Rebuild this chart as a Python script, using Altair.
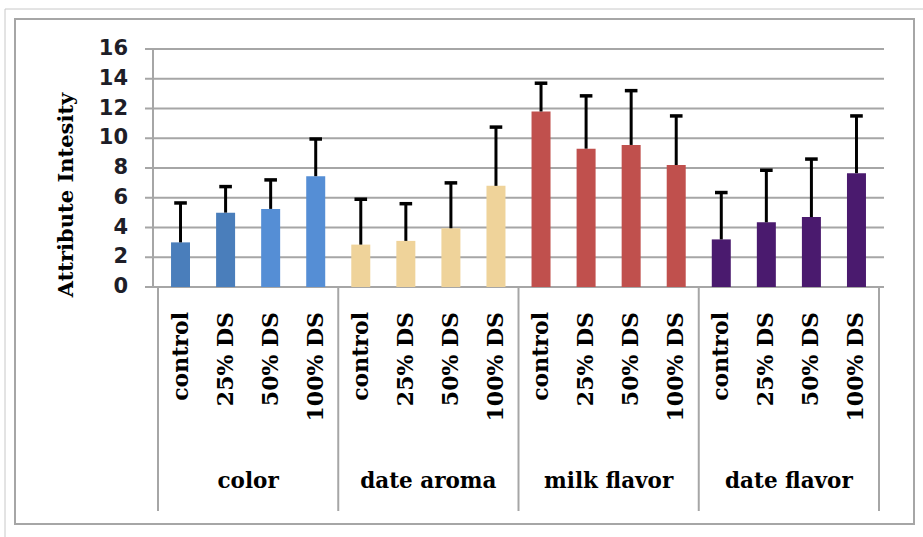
import altair as alt
import pandas as pd

groups = ["color", "date aroma", "milk flavor", "date flavor"]
treatments = ["control", "25% DS", "50% DS", "100% DS"]
means = [3.0, 5.0, 5.25, 7.45,
         2.85, 3.1, 3.95, 6.8,
         11.8, 9.3, 9.55, 8.2,
         3.2, 4.35, 4.7, 7.65]
sds = [2.65, 1.75, 1.95, 2.5,
       3.05, 2.5, 3.05, 3.95,
       1.9, 3.55, 3.65, 3.3,
       3.15, 3.5, 3.9, 3.85]
bar_colors = ["#4a7ebb", "#4a7ebb", "#558ed5", "#558ed5",
              "#efd39a", "#efd39a", "#efd39a", "#efd39a",
              "#c0504d", "#c0504d", "#c0504d", "#c0504d",
              "#4a1a6e", "#4a1a6e", "#4a1a6e", "#4a1a6e"]
y_ticks = [0, 2, 4, 6, 8, 10, 12, 14, 16]
y_tick_labels = ["0", "2", "4", "6", "8", "10", "12", "14", "16"]

rows = []
i = 0
for g in groups:
    for t in treatments:
        rows.append({"idx": i, "key": str(i), "group": g, "treat": t,
                     "mean": means[i], "upper": means[i] + sds[i],
                     "cl": i - 0.14, "cr": i + 0.14})
        i += 1
df = pd.DataFrame(rows)

grp_df = pd.DataFrame({"group": groups, "gx": [1.5, 5.5, 9.5, 13.5]})
sep_df = pd.DataFrame({"sx": [-0.5, 3.5, 7.5, 11.5, 15.5]})
tick_df = pd.DataFrame({"v": y_ticks, "lab": y_tick_labels})
one = pd.DataFrame({"a": [0]})

W, H = 731, 238
xs = alt.Scale(domain=[-0.5, 15.5], nice=False, zero=False)
ys = alt.Scale(domain=[0, 16], nice=False)

GRAY = "#a6a6a6"
SERIF = "DejaVu Serif"

base = alt.Chart(df)

grid = alt.Chart(tick_df).mark_rule(color=GRAY, strokeWidth=2).encode(
    x=alt.value(-8), x2=alt.value(W),
    y=alt.Y("v:Q", scale=ys, axis=None))

tick_labels = alt.Chart(tick_df).mark_text(
    align="right", baseline="middle", font="DejaVu Sans", fontWeight="bold",
    fontSize=21, color="#1e1e28").encode(
    x=alt.value(-25), y=alt.Y("v:Q", scale=ys, axis=None), text="lab:N")

ydomain = alt.Chart(one).mark_rule(color=GRAY, strokeWidth=2).encode(
    x=alt.value(0), y=alt.value(0), y2=alt.value(H))

bars = base.mark_bar(size=19).encode(
    x=alt.X("idx:Q", scale=xs, axis=None),
    y=alt.Y("mean:Q", scale=ys, axis=None),
    color=alt.Color("key:N", scale=alt.Scale(domain=[str(k) for k in range(16)],
                                             range=bar_colors), legend=None),
)

stems = base.mark_rule(color="black", strokeWidth=3).encode(
    x=alt.X("idx:Q", scale=xs, axis=None),
    y=alt.Y("mean:Q", scale=ys, axis=None), y2="upper:Q")

caps = base.mark_rule(color="black", strokeWidth=3.5).encode(
    x=alt.X("cl:Q", scale=xs, axis=None), x2="cr:Q",
    y=alt.Y("upper:Q", scale=ys, axis=None))

cat_labels = base.mark_text(angle=270, align="right", baseline="middle",
                            font=SERIF, fontWeight="bold", fontSize=22,
                            color="black").encode(
    x=alt.X("idx:Q", scale=xs, axis=None), y=alt.value(263), text="treat:N")

grp_labels = alt.Chart(grp_df).mark_text(align="center", baseline="middle",
                                          font=SERIF, fontWeight="bold",
                                          fontSize=21.5, color="black").encode(
    x=alt.X("gx:Q", scale=xs, axis=None), y=alt.value(433), text="group:N")

seps = alt.Chart(sep_df).mark_rule(color=GRAY, strokeWidth=2).encode(
    x=alt.X("sx:Q", scale=xs, axis=None), y=alt.value(H), y2=alt.value(462))

y_title = alt.Chart(one).mark_text(angle=270, align="center", baseline="middle",
                                   font=SERIF, fontWeight="bold", fontSize=21,
                                   color="black").encode(
    x=alt.value(67 - 153), y=alt.value(195 - 49), text=alt.value("Attribute Intesity"))

inner_box = alt.Chart(one).mark_rect(fill="white", fillOpacity=0, stroke=GRAY,
                                     strokeWidth=2).encode(
    x=alt.value(15 - 153), x2=alt.value(914 - 153),
    y=alt.value(19 - 49), y2=alt.value(524 - 49))

outer_top = alt.Chart(one).mark_rule(color="#c8c8c8", strokeWidth=1).encode(
    x=alt.value(5 - 153), x2=alt.value(923 - 153), y=alt.value(9 - 49))
outer_left = alt.Chart(one).mark_rule(color="#c8c8c8", strokeWidth=1).encode(
    x=alt.value(5 - 153), y=alt.value(9 - 49), y2=alt.value(537 - 49))

chart = alt.layer(
    inner_box, outer_top, outer_left, grid, ydomain, tick_labels,
    bars, stems, caps, seps, cat_labels, grp_labels, y_title
).properties(
    width=W, height=H,
    autosize=alt.AutoSizeParams(type="none"),
    padding={"left": 153, "top": 49, "right": 39, "bottom": 250},
    background="white",
).configure_view(stroke=None)

chart.save("out.html", embed_options={"renderer": "svg", "actions": False})
